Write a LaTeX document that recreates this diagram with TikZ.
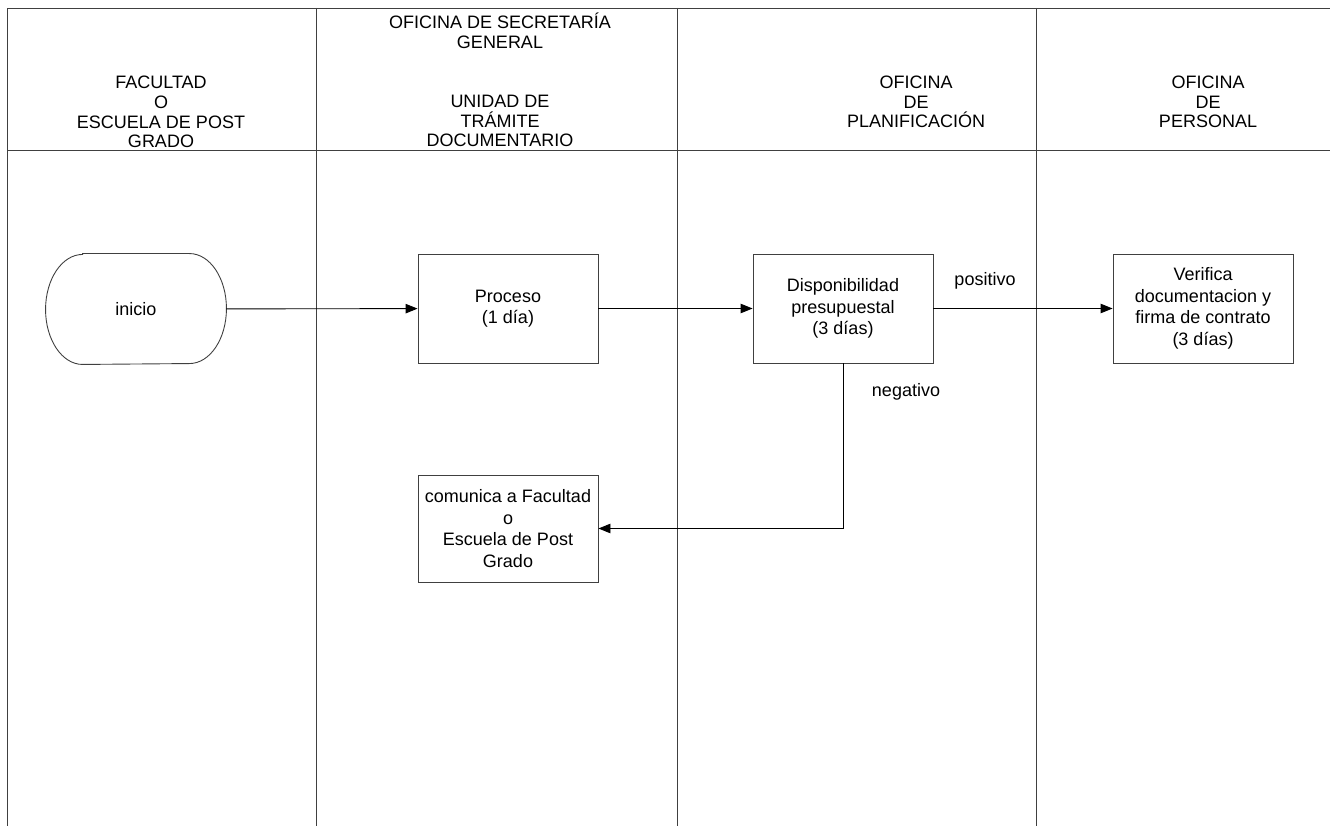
\documentclass[tikz,border=0pt]{standalone}
\usepackage{fontspec}
\setmainfont{Liberation Sans}
\usetikzlibrary{arrows.meta,positioning}

\begin{document}
\begin{tikzpicture}[x=1pt,y=-1pt,line width=0.9pt,
    >={Triangle[length=12pt,width=9.5pt]},
    font=\fontsize{18}{21.5}\selectfont]
  \tikzstyle{lane}=[draw=black!75]
  \tikzstyle{proc}=[draw=black!75,align=center,minimum width=180pt,minimum height=109pt,inner sep=1pt]
  \tikzstyle{title}=[align=center,font=\fontsize{18}{19.7}\selectfont]

  \useasboundingbox (0,0) rectangle (1330,826);

  % carriles
  \draw[lane] (1330,8) -- (7,8) -- (7,826);
  \draw[lane] (7,150) -- (1330,150);
  \foreach \x in {316,677,1036}
    \draw[lane] (\x,8) -- (\x,826);

  \node[title] (fac) at (161,112) {FACULTAD\\O\\ESCUELA DE POST\\GRADO};
  \node[title] (sec) at (500,80)  {OFICINA DE SECRETARÍA\\GENERAL\\ \\ \\UNIDAD DE\\TRÁMITE\\DOCUMENTARIO};
  \node[title] (pla) at (916,102) {OFICINA\\DE\\PLANIFICACIÓN};
  \node[title] (per) at (1208,102) {OFICINA\\DE\\PERSONAL};

  % pasos
  \node[proc,draw=none,minimum height=110pt] (ini) at (136,309) {inicio};
  \draw[lane] ([xshift=37pt]ini.north west) -- ([xshift=-37pt]ini.north east)
    arc[start angle=90,end angle=-90,x radius=37pt,y radius=55pt]
    -- ([xshift=37pt]ini.south west)
    arc[start angle=270,end angle=90,x radius=37pt,y radius=55pt] -- cycle;
  \node[proc]                   (pro) at (508,308.5) {Proceso\\(1 día)};
  \node[proc]                   (dis) at (843,308.5) {Disponibilidad\\presupuestal\\(3 días)};
  \node[proc]                   (ver) at (1203,308.5) {Verifica\\documentacion y\\firma de contrato\\(3 días)};
  \node[proc,minimum height=107pt] (com) at (508,528.5) {comunica a Facultad\\o\\Escuela de Post\\Grado};

  \draw[->] (ini) -- (pro);
  \draw[->] (pro) -- (dis);
  \draw[->] (dis) -- (ver);
  \draw[->] (dis.south) |- (com.east);

  \node (posi) at (985,281) {positivo};
  \node (nega) at (906,392) {negativo};
\end{tikzpicture}
\end{document}
